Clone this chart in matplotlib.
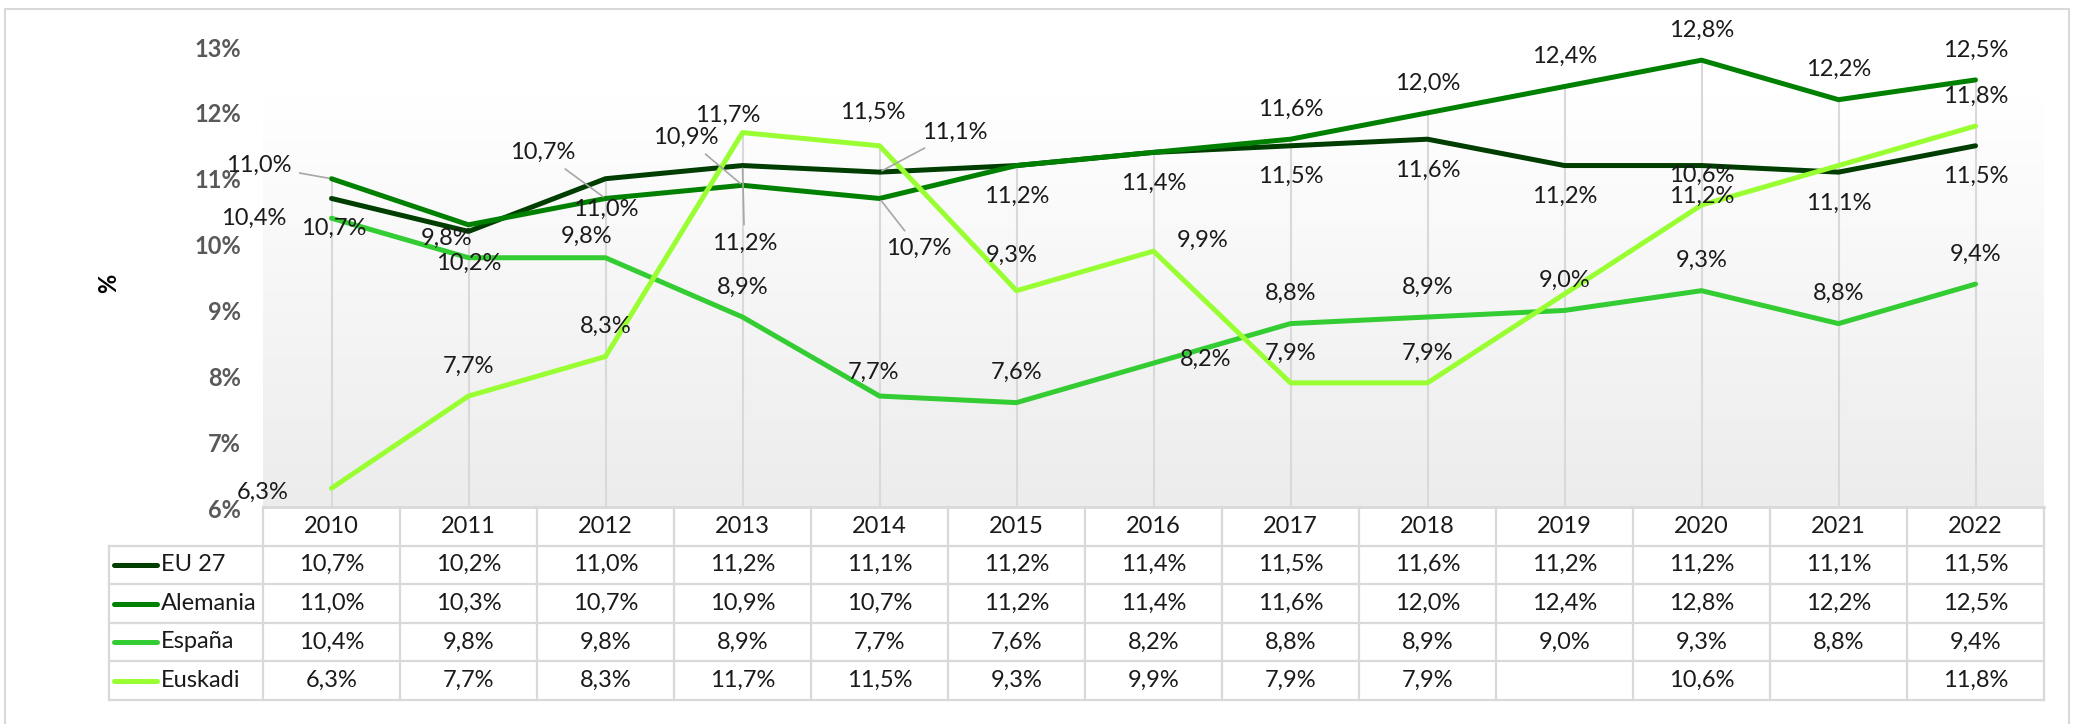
import matplotlib
matplotlib.use('Agg')
import matplotlib.pyplot as plt
import matplotlib.transforms as mtrans
from matplotlib.lines import Line2D
from matplotlib.patches import Rectangle
from matplotlib.colors import LinearSegmentedColormap
import numpy as np

plt.rcParams['font.family'] = ['Lato', 'DejaVu Sans']

years = ['2010', '2011', '2012', '2013', '2014', '2015', '2016',
         '2017', '2018', '2019', '2020', '2021', '2022']
eu27 = [10.7, 10.2, 11.0, 11.2, 11.1, 11.2, 11.4, 11.5, 11.6, 11.2, 11.2, 11.1, 11.5]
alemania = [11.0, 10.3, 10.7, 10.9, 10.7, 11.2, 11.4, 11.6, 12.0, 12.4, 12.8, 12.2, 12.5]
espana = [10.4, 9.8, 9.8, 8.9, 7.7, 7.6, 8.2, 8.8, 8.9, 9.0, 9.3, 8.8, 9.4]
euskadi = [6.3, 7.7, 8.3, 11.7, 11.5, 9.3, 9.9, 7.9, 7.9, None, 10.6, None, 11.8]
series_names = ['EU 27', 'Alemania', 'España', 'Euskadi']
yticks = [6, 7, 8, 9, 10, 11, 12, 13]

colors = ['#003d00', '#008000', '#33cc33', '#99ff33']
series = [eu27, alemania, espana, euskadi]

# label placement (pixels, y down) - defaults: EU below, others above
default_off = {'EU 27': (0, 31), 'Alemania': (0, -30), 'España': (0, -30), 'Euskadi': (0, -30)}
label_off = {
    ('EU 27', 0): (2, 30), ('EU 27', 1): (0, 32), ('EU 27', 3): (2, 78), ('EU 27', 4): (75, -40),
    ('Alemania', 0): (-73, -13), ('Alemania', 2): (-63, -46), ('Alemania', 3): (-57, -48),
    ('Alemania', 4): (39, 50),
    ('España', 0): (-78, 0), ('España', 1): (-22, -19), ('España', 2): (-19, -21),
    ('España', 4): (-6, -24), ('España', 6): (52, -4),
    ('Euskadi', 0): (-69, 4), ('Euskadi', 3): (-15, -17), ('Euskadi', 4): (-7, -33),
    ('Euskadi', 5): (-5, -35), ('Euskadi', 6): (49, -11),
}
hidden = {('Alemania', 1), ('Alemania', 5), ('Alemania', 6)}
leaders = {('EU 27', 3), ('EU 27', 4), ('Alemania', 0), ('Alemania', 2),
           ('Alemania', 3), ('Alemania', 4)}


def pct(v):
    return f'{v:.1f}'.replace('.', ',') + '%'


W, H = 2074, 724
fx = lambda px: px / W
fy = lambda py: 1 - py / H

fig = plt.figure(figsize=(W / 100, H / 100), dpi=100)
ax = fig.add_axes([fx(263), fy(508), fx(2044) - fx(263), fy(47) - fy(508)])

fs = 17
x = np.arange(len(years))

# plot area gradient
cmap = LinearSegmentedColormap.from_list('bg', ['#ffffff', '#ececec'])
ax.imshow(np.linspace(0, 1, 256).reshape(-1, 1), cmap=cmap, aspect='auto',
          extent=(0, 1, 0, 0.89), transform=ax.transAxes, zorder=0)

# drop lines
tops = [max(v for v in col if v is not None) for col in zip(*series)]
ax.vlines(x, 6, tops, colors='#d9d9d9', lw=1.5, zorder=1)

for name, vals, c in zip(series_names, series, colors):
    xs = [i for i, v in enumerate(vals) if v is not None]
    ys = [v for v in vals if v is not None]
    ax.plot(xs, ys, color=c, lw=3.6, solid_capstyle='round', solid_joinstyle='round', zorder=3)
    for i, v in zip(xs, ys):
        if (name, i) in hidden:
            continue
        dx, dy = label_off.get((name, i), default_off[name])
        arrow = None
        if (name, i) in leaders:
            arrow = dict(arrowstyle='-', color='#a6a6a6', lw=1.2, shrinkA=4, shrinkB=2)
        ax.annotate(pct(v), (i, v), xytext=(dx, -dy), textcoords='offset pixels',
                    ha='center', va='center', fontsize=fs, color='#1a1a1a',
                    arrowprops=arrow, zorder=5)

ax.set_xlim(-0.5, len(years) - 0.5)
ax.set_ylim(6, 13)
ax.set_xticks([])
ax.set_yticks(yticks)
ax.set_yticklabels([f'{t}%' for t in yticks], fontsize=fs, fontweight='bold', color='#595959')
ax.tick_params(axis='y', length=0, pad=16)
for s in ax.spines.values():
    s.set_visible(False)

fig.text(fx(109), fy(283), '%', rotation=90, ha='center', va='center',
         fontsize=fs, fontweight='bold', color='black')

# data table
grid = '#d9d9d9'
bt = mtrans.blended_transform_factory(ax.transData, fig.transFigure)
row_edges = [507, 545.5, 584, 623, 661, 700]
for i in range(len(years) + 1):
    fig.add_artist(Line2D([i - 0.5, i - 0.5], [fy(row_edges[0]), fy(row_edges[-1])],
                          transform=bt, color=grid, lw=1.6))
fig.add_artist(Line2D([fx(263), fx(2044)], [fy(row_edges[0])] * 2, color=grid, lw=2))
for e in row_edges[1:]:
    fig.add_artist(Line2D([fx(109), fx(2044)], [fy(e)] * 2, color=grid, lw=1.6))
fig.add_artist(Line2D([fx(109), fx(109)], [fy(row_edges[1]), fy(row_edges[-1])], color=grid, lw=1.6))

hc = (row_edges[0] + row_edges[1]) / 2
for i, yr in enumerate(years):
    fig.text(i, fy(hc), yr, transform=bt, ha='center', va='center', fontsize=fs, color='#1a1a1a')

for r, (name, vals, c) in enumerate(zip(series_names, series, colors)):
    rc = (row_edges[r + 1] + row_edges[r + 2]) / 2
    fig.add_artist(Line2D([fx(114), fx(157)], [fy(rc)] * 2, color=c, lw=3.6, solid_capstyle='round'))
    fig.text(fx(161), fy(rc), name, ha='left', va='center', fontsize=fs, color='#1a1a1a')
    for i, v in enumerate(vals):
        if v is None:
            continue
        fig.text(i, fy(rc), pct(v), transform=bt, ha='center', va='center', fontsize=fs, color='#1a1a1a')

# chart border
fig.add_artist(Rectangle((fx(5), -0.05), fx(2069) - fx(5), fy(9) + 0.05, fill=False,
                         edgecolor='#d9d9d9', lw=1.5, transform=fig.transFigure))

fig.savefig('out.png', dpi=100)
